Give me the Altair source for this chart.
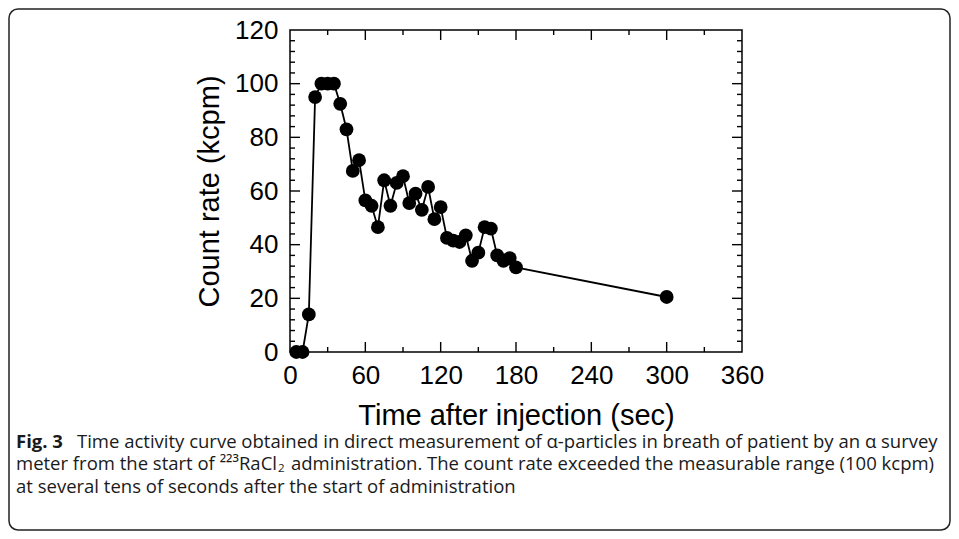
import altair as alt
import pandas as pd

# --- data ---
time_s = [5, 10, 15, 20, 25, 30, 35, 40, 45, 50, 55, 60, 65, 70, 75, 80, 85, 90, 95,
          100, 105, 110, 115, 120, 125, 130, 135, 140, 145, 150, 155, 160, 165, 170,
          175, 180, 300]
count_kcpm = [0, 0, 14, 95, 100, 100, 100, 92.5, 83, 67.5, 71.5, 56.5, 54.5, 46.5,
              64, 54.5, 63, 65.5, 55.5, 59, 53, 61.5, 49.5, 54, 42.5, 41.5, 41, 43.5,
              34, 37, 46.5, 46, 36, 34, 35, 31.5, 20.5]

x_labels = [0, 60, 120, 180, 240, 300, 360]
y_labels = [0, 20, 40, 60, 80, 100, 120]
x_minor = [30, 90, 150, 210, 270, 330]
y_minor = [v for v in range(4, 120, 4) if v % 20 != 0]

x_title = "Time after injection (sec)"
y_title = "Count rate (kcpm)"
caption_bold = "Fig. 3"
caption_l1 = "Time activity curve obtained in direct measurement of α-particles in breath of patient by an α survey"
caption_l2a = "meter from the start of ²²³RaCl"
caption_l2sub = "2"
caption_l2b = "administration. The count rate exceeded the measurable range (100 kcpm)"
caption_l3 = "at several tens of seconds after the start of administration"

df = pd.DataFrame({"t": time_s, "c": count_kcpm})

W, H = 452, 322
AX_FONT = "Liberation Sans"
CAP_FONT = "Open Sans"

xs = alt.Scale(domain=[0, 360], nice=False, zero=False)
ys = alt.Scale(domain=[0, 120], nice=False, zero=False)

x_axis = alt.Axis(values=x_labels, ticks=False, tickSize=0, domain=False, grid=False,
                  labelFontSize=26, labelFont=AX_FONT, labelColor="black",
                  labelPadding=10, labelFlush=False, labelOverlap=False,
                  title=x_title, titleFontSize=29, titleFont=AX_FONT,
                  titleFontWeight="normal", titleColor="black", titlePadding=13)
y_axis = alt.Axis(values=y_labels, ticks=False, tickSize=0, domain=False, grid=False,
                  labelFontSize=26, labelFont=AX_FONT, labelColor="black",
                  labelPadding=12, labelFlush=False, labelOverlap=False,
                  title=y_title, titleFontSize=29, titleFont=AX_FONT,
                  titleFontWeight="normal", titleColor="black", titlePadding=10)

base = alt.Chart(df)
line = base.mark_line(color="black", strokeWidth=1.8).encode(
    x=alt.X("t:Q", scale=xs, axis=x_axis),
    y=alt.Y("c:Q", scale=ys, axis=y_axis),
)
points = base.mark_circle(color="black", opacity=1, size=190).encode(
    x=alt.X("t:Q", scale=xs, axis=x_axis),
    y=alt.Y("c:Q", scale=ys, axis=y_axis),
)

def xticks(vals, length):
    d = alt.Chart(pd.DataFrame({"v": vals}))
    bottom = d.mark_rule(color="black", strokeWidth=1.4).encode(
        x=alt.X("v:Q", scale=xs, axis=x_axis), y=alt.value(H), y2=alt.value(H - length))
    top = d.mark_rule(color="black", strokeWidth=1.4).encode(
        x=alt.X("v:Q", scale=xs, axis=x_axis), y=alt.value(0), y2=alt.value(length))
    return [bottom, top]

def yticks(vals, length):
    d = alt.Chart(pd.DataFrame({"v": vals}))
    left = d.mark_rule(color="black", strokeWidth=1.4).encode(
        y=alt.Y("v:Q", scale=ys, axis=y_axis), x=alt.value(0), x2=alt.value(length))
    right = d.mark_rule(color="black", strokeWidth=1.4).encode(
        y=alt.Y("v:Q", scale=ys, axis=y_axis), x=alt.value(W), x2=alt.value(W - length))
    return [left, right]

tick_layers = (xticks(x_labels[1:-1], 10) + xticks(x_minor, 5)
               + yticks(y_labels[1:-1], 10) + yticks(y_minor, 5))

# outer rounded frame of the figure panel
frame = alt.Chart(pd.DataFrame({"k": [1]})).mark_rect(
    fillOpacity=0, stroke="#222", strokeWidth=1.5, cornerRadius=9
).encode(x=alt.value(-281), x2=alt.value(660), y=alt.value(-21), y2=alt.value(500))

def cap_text(txt, x, y, bold=False, size=18.5):
    return alt.Chart(pd.DataFrame({"s": [txt]})).mark_text(
        font=CAP_FONT, fontSize=size, align="left", baseline="alphabetic",
        color="#1a1a1a", fontWeight="bold" if bold else "normal"
    ).encode(text="s:N", x=alt.value(x), y=alt.value(y))

captions = [
    cap_text(caption_bold, -274, 417.5, bold=True, size=18.5),
    cap_text(caption_l1, -213, 417.5),
    cap_text(caption_l2a, -274, 440),
    cap_text(caption_l2sub, -12, 441.5, size=11.5),
    cap_text(caption_l2b, 1, 440),
    cap_text(caption_l3, -274, 462.5),
]

chart = alt.layer(
    frame, *tick_layers, line, points, *captions
).properties(
    width=W, height=H,
    autosize=alt.AutoSizeParams(type="none"),
    padding={"left": 282, "top": 22, "right": 209, "bottom": 179},
    background="white",
).configure_view(stroke="black", strokeWidth=1.5)

chart.save("out.html", embed_options={"renderer": "svg", "actions": False})
